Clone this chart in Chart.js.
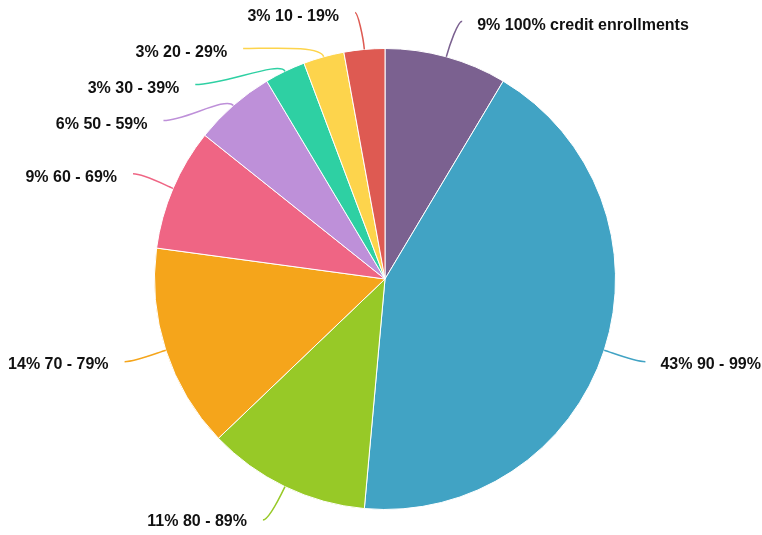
<!DOCTYPE html>
<html>
<head>
<meta charset="utf-8">
<script src="https://cdn.jsdelivr.net/npm/chart.js@4.4.0/dist/chart.umd.min.js"></script>
<style>
  body { margin: 0; background: #fff; }
  canvas { display: block; }
</style>
</head>
<body>
<canvas id="myChart" width="762" height="535"></canvas>
<script>
const categories = ['100% credit enrollments', '90 - 99%', '80 - 89%', '70 - 79%', '60 - 69%', '50 - 59%', '30 - 39%', '20 - 29%', '10 - 19%'];
const counts = [3, 15, 4, 5, 3, 2, 1, 1, 1];
const colors = ['#7B6190', '#41A3C4', '#97C927', '#F5A51B', '#EF6584', '#BE90D9', '#2ED0A3', '#FDD44C', '#DE5A52'];

const total = counts.reduce((a, b) => a + b, 0);

// outside labels with curved leader lines
const outerLabels = {
  id: 'outerLabels',
  afterDraw(chart) {
    const ctx = chart.ctx;
    const arcs = chart.getDatasetMeta(0).data;
    const spacing = 36;
    const items = arcs.map((arc, i) => {
      const p = arc.getProps(['startAngle', 'endAngle', 'x', 'y', 'outerRadius'], true);
      const a = (p.startAngle + p.endAngle) / 2;
      const R = p.outerRadius + 37;
      return {
        i: i, a: a, cx: p.x, cy: p.y, r: p.outerRadius, R: R,
        right: Math.cos(a) >= 0,
        y: p.y + Math.sin(a) * R
      };
    });

    [true, false].forEach(side => {
      const list = items.filter(d => d.right === side).sort((m, n) => m.y - n.y);
      for (let k = 1; k < list.length; k++) {
        if (list[k].y < list[k - 1].y + spacing) list[k].y = list[k - 1].y + spacing;
      }
    });

    ctx.save();
    items.forEach(d => {
      const dy = d.y - d.cy;
      const dx = (Math.abs(dy) < d.R ? Math.sqrt(d.R * d.R - dy * dy) : 0) + 6;
      const ex = d.right ? d.cx + dx : d.cx - dx;
      const ey = d.y;
      const sx = d.cx + Math.cos(d.a) * d.r;
      const sy = d.cy + Math.sin(d.a) * d.r;
      const c1x = d.cx + Math.cos(d.a) * (d.r + 12);
      const c1y = d.cy + Math.sin(d.a) * (d.r + 12);
      const c2x = c1x * 0.35 + ex * 0.65;

      ctx.beginPath();
      ctx.moveTo(sx, sy);
      ctx.bezierCurveTo(c1x, c1y, c2x, ey, ex, ey);
      ctx.strokeStyle = colors[d.i];
      ctx.lineWidth = 1.5;
      ctx.stroke();

      const pct = Math.round(counts[d.i] / total * 100);
      ctx.font = 'bold 16px "Liberation Sans", Arial, sans-serif';
      ctx.fillStyle = '#111';
      ctx.textBaseline = 'middle';
      ctx.textAlign = d.right ? 'left' : 'right';
      ctx.fillText(pct + '% ' + categories[d.i], d.right ? ex + 15 : ex - 16, ey + 3 - 1.5 * Math.sin(d.a));
    });
    ctx.restore();
  }
};

const data = {
  labels: categories,
  datasets: [{
    data: counts,
    backgroundColor: colors,
    borderColor: '#ffffff',
    borderWidth: 1
  }]
};

const config = {
  type: 'pie',
  data: data,
  options: {
    responsive: false,
    animation: false,
    layout: { padding: { left: 154, right: 146, top: 48, bottom: 25 } },
    plugins: {
      legend: { display: false },
      tooltip: { enabled: false }
    }
  },
  plugins: [outerLabels]
};

const myChart = new Chart('myChart', config);
</script>
</body>
</html>
